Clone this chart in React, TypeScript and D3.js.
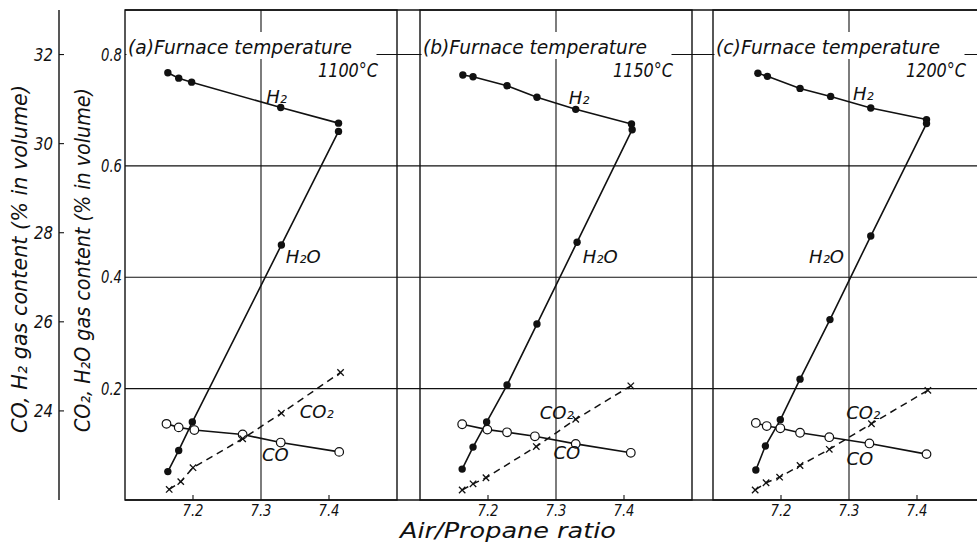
import React from 'react';
import * as d3 from 'd3';

// chart labels
const panelIds = ['(a)', '(b)', '(c)'];
const furnaceTemps = ['1100°C', '1150°C', '1200°C'];
const seriesLabels = ['H₂', 'H₂O', 'CO₂', 'CO'];
const xTicks = [7.2, 7.3, 7.4];
const leftTicks = [24, 26, 28, 30, 32];
const rightTicks = [0.2, 0.4, 0.6, 0.8];

// (a) 1100 C
const h2X_a = [7.163, 7.179, 7.198, 7.329, 7.414];
const h2_a = [31.59, 31.47, 31.38, 30.81, 30.46];
const h2oX_a = [7.163, 7.179, 7.199, 7.33, 7.414];
const h2o_a = [0.051, 0.089, 0.14, 0.458, 0.662];
const coX_a = [7.161, 7.179, 7.202, 7.273, 7.329, 7.415];
const co_a = [23.71, 23.63, 23.57, 23.47, 23.29, 23.08];
const co2X_a = [7.165, 7.182, 7.2, 7.273, 7.33, 7.417];
const co2_a = [0.019, 0.033, 0.058, 0.11, 0.156, 0.229];
const labelPos_a = [[7.323, 0.724], [7.362, 0.437], [7.382, 0.159], [7.321, 0.081]];

// (b) 1150 C
const h2X_b = [7.163, 7.178, 7.228, 7.272, 7.329, 7.411];
const h2_b = [31.54, 31.5, 31.3, 31.04, 30.77, 30.44];
const h2oX_b = [7.162, 7.178, 7.198, 7.228, 7.272, 7.331, 7.412];
const h2o_b = [0.0555, 0.095, 0.14, 0.2065, 0.316, 0.463, 0.665];
const coX_b = [7.162, 7.199, 7.228, 7.269, 7.329, 7.41];
const co_b = [23.7, 23.58, 23.52, 23.43, 23.26, 23.06];
const co2X_b = [7.162, 7.178, 7.197, 7.271, 7.329, 7.41];
const co2_b = [0.018, 0.029, 0.04, 0.096, 0.145, 0.205];
const labelPos_b = [[7.334, 0.722], [7.365, 0.438], [7.301, 0.158], [7.316, 0.086]];

// (c) 1200 C
const h2X_c = [7.166, 7.18, 7.228, 7.273, 7.332, 7.414];
const h2_c = [31.58, 31.51, 31.24, 31.06, 30.8, 30.54];
const h2oX_c = [7.163, 7.177, 7.199, 7.228, 7.272, 7.332, 7.414];
const h2o_c = [0.054, 0.097, 0.144, 0.217, 0.324, 0.474, 0.676];
const coX_c = [7.163, 7.179, 7.199, 7.228, 7.271, 7.33, 7.414];
const co_c = [23.73, 23.66, 23.61, 23.51, 23.41, 23.27, 23.03];
const co2X_c = [7.162, 7.178, 7.198, 7.228, 7.271, 7.333, 7.416];
const co2_c = [0.018, 0.031, 0.041, 0.062, 0.091, 0.137, 0.197];
const labelPos_c = [[7.321, 0.73], [7.267, 0.438], [7.321, 0.158], [7.316, 0.074]];

const zip = (xs: number[], ys: number[]) => xs.map((x, i) => [x, ys[i]] as [number, number]);

const panels = [
  { id: panelIds[0], temp: furnaceTemps[0], h2: zip(h2X_a, h2_a), h2o: zip(h2oX_a, h2o_a), co: zip(coX_a, co_a), co2: zip(co2X_a, co2_a), labels: labelPos_a },
  { id: panelIds[1], temp: furnaceTemps[1], h2: zip(h2X_b, h2_b), h2o: zip(h2oX_b, h2o_b), co: zip(coX_b, co_b), co2: zip(co2X_b, co2_b), labels: labelPos_b },
  { id: panelIds[2], temp: furnaceTemps[2], h2: zip(h2X_c, h2_c), h2o: zip(h2oX_c, h2o_c), co: zip(coX_c, co_c), co2: zip(co2X_c, co2_c), labels: labelPos_c },
];

const W = 977;
const H = 543;
const top = 10;
const bottom = 500;
const panelLefts = [125, 420, 713];
const panelW = 272;
const font = '"DejaVu Sans", sans-serif';

// CO, H2 on the far-left scale; CO2, H2O on the inner scale
const yLeft = d3.scaleLinear().domain([22, 33]).range([bottom, top]);
const yRight = d3.scaleLinear().domain([0, 0.88]).range([bottom, top]);

function Panel({ p, left }: { p: any; left: number }) {
  const x = d3.scaleLinear().domain([7.1, 7.5]).range([left, left + panelW]);
  const lineL = d3.line<[number, number]>().x(d => x(d[0])).y(d => yLeft(d[1]));
  const lineR = d3.line<[number, number]>().x(d => x(d[0])).y(d => yRight(d[1]));
  const ink = '#111';

  return (
    <g>
      {/* vertical grid at 7.3 */}
      <line x1={x(7.3)} x2={x(7.3)} y1={top} y2={bottom} stroke={ink} strokeWidth={1.1} />
      {/* inner ticks */}
      {[7.2, 7.4].map(t => (
        <line key={t} x1={x(t)} x2={x(t)} y1={bottom} y2={bottom - 5} stroke={ink} strokeWidth={1.1} />
      ))}
      {xTicks.map(t => (
        <text key={'l' + t} x={x(t)} y={516} textAnchor="middle" fontSize={16} fontStyle="italic"
          fontFamily={font} fill={ink} textLength={21} lengthAdjust="spacingAndGlyphs">{t.toFixed(1)}</text>
      ))}

      {/* title, knocked out of the grid */}
      <rect x={left + 1.5} y={32} width={250} height={27} fill="#fff" />
      <text x={left + 3} y={54} fontSize={19} fontStyle="italic" fontFamily={font} fill={ink}
        textLength={224} lengthAdjust="spacingAndGlyphs">{p.id + 'Furnace  temperature'}</text>
      <text x={left + 253} y={77} textAnchor="end" fontSize={19} fontStyle="italic" fontFamily={font} fill={ink}
        textLength={60} lengthAdjust="spacingAndGlyphs">{p.temp}</text>

      {/* frame */}
      <rect x={left} y={top} width={panelW} height={bottom - top} fill="none" stroke={ink} strokeWidth={1.4} />

      {/* lines */}
      <path d={lineL(p.h2) || ''} fill="none" stroke={ink} strokeWidth={1.6} />
      <path d={lineR(p.h2o) || ''} fill="none" stroke={ink} strokeWidth={1.6} />
      <path d={lineL(p.co) || ''} fill="none" stroke={ink} strokeWidth={1.6} />
      <path d={lineR(p.co2) || ''} fill="none" stroke={ink} strokeWidth={1.5} strokeDasharray="7,5" />

      {/* markers */}
      {p.h2.map((d: [number, number], i: number) => (
        <circle key={'h2' + i} cx={x(d[0])} cy={yLeft(d[1])} r={3.7} fill={ink} />
      ))}
      {p.h2o.map((d: [number, number], i: number) => (
        <circle key={'h2o' + i} cx={x(d[0])} cy={yRight(d[1])} r={3.7} fill={ink} />
      ))}
      {p.co.map((d: [number, number], i: number) => (
        <circle key={'co' + i} cx={x(d[0])} cy={yLeft(d[1])} r={4.3} fill="#fff" stroke={ink} strokeWidth={1.2} />
      ))}
      {p.co2.map((d: [number, number], i: number) => {
        const cx = x(d[0]);
        const cy = yRight(d[1]);
        const s = 3.2;
        return (
          <path key={'co2' + i} d={`M${cx - s},${cy - s}L${cx + s},${cy + s}M${cx - s},${cy + s}L${cx + s},${cy - s}`}
            stroke={ink} strokeWidth={1.3} />
        );
      })}

      {/* series labels */}
      {p.labels.map((l: number[], i: number) => (
        <text key={'lab' + i} x={x(l[0])} y={yRight(l[1])} textAnchor="middle" dominantBaseline="central"
          fontSize={18} fontStyle="italic" fontFamily={font} fill={ink}>{seriesLabels[i]}</text>
      ))}
    </g>
  );
}

export default function App() {
  const ink = '#111';
  return (
    <svg width={W} height={H} style={{ position: 'absolute', left: 0, top: 0, background: '#fff' }}>
      <rect width={W} height={H} fill="#fff" />

      {/* horizontal grid running through all panels */}
      {rightTicks.map(t => (
        <line key={t} x1={panelLefts[0]} x2={W} y1={yRight(t)} y2={yRight(t)} stroke={ink} strokeWidth={1.1} />
      ))}
      <line x1={panelLefts[0]} x2={W} y1={top} y2={top} stroke={ink} strokeWidth={1.4} />
      <line x1={panelLefts[0]} x2={W} y1={bottom} y2={bottom} stroke={ink} strokeWidth={1.4} />

      {panels.map((p, i) => <Panel key={i} p={p} left={panelLefts[i]} />)}

      {/* far-left axis: CO, H2 */}
      <line x1={59} x2={59} y1={top} y2={bottom} stroke={ink} strokeWidth={1.4} />
      {leftTicks.map(t => (
        <g key={t}>
          <line x1={59} x2={64} y1={yLeft(t)} y2={yLeft(t)} stroke={ink} strokeWidth={1.1} />
          <text x={53} y={yLeft(t)} textAnchor="end" dominantBaseline="central" fontSize={18}
            fontStyle="italic" fontFamily={font} fill={ink} textLength={19} lengthAdjust="spacingAndGlyphs">{t}</text>
        </g>
      ))}

      {/* inner axis: CO2, H2O */}
      {rightTicks.map(t => (
        <text key={t} x={122} y={yRight(t)} textAnchor="end" dominantBaseline="central" fontSize={17}
          fontStyle="italic" fontFamily={font} fill={ink} textLength={21} lengthAdjust="spacingAndGlyphs">{t.toFixed(1)}</text>
      ))}

      {/* axis titles */}
      <text transform="translate(20,259) rotate(-90)" textAnchor="middle" dominantBaseline="central"
        fontSize={21} fontStyle="italic" fontFamily={font} fill={ink} textLength={348}
        lengthAdjust="spacingAndGlyphs">CO, H₂ gas content (% in volume)</text>
      <text transform="translate(83,260) rotate(-90)" textAnchor="middle" dominantBaseline="central"
        fontSize={21} fontStyle="italic" fontFamily={font} fill={ink} textLength={344}
        lengthAdjust="spacingAndGlyphs">CO₂, H₂O gas content (% in volume)</text>
      <text x={508} y={538} textAnchor="middle" fontSize={21} fontStyle="italic" fontFamily={font} fill={ink}
        textLength={216} lengthAdjust="spacingAndGlyphs">Air/Propane ratio</text>
    </svg>
  );
}
